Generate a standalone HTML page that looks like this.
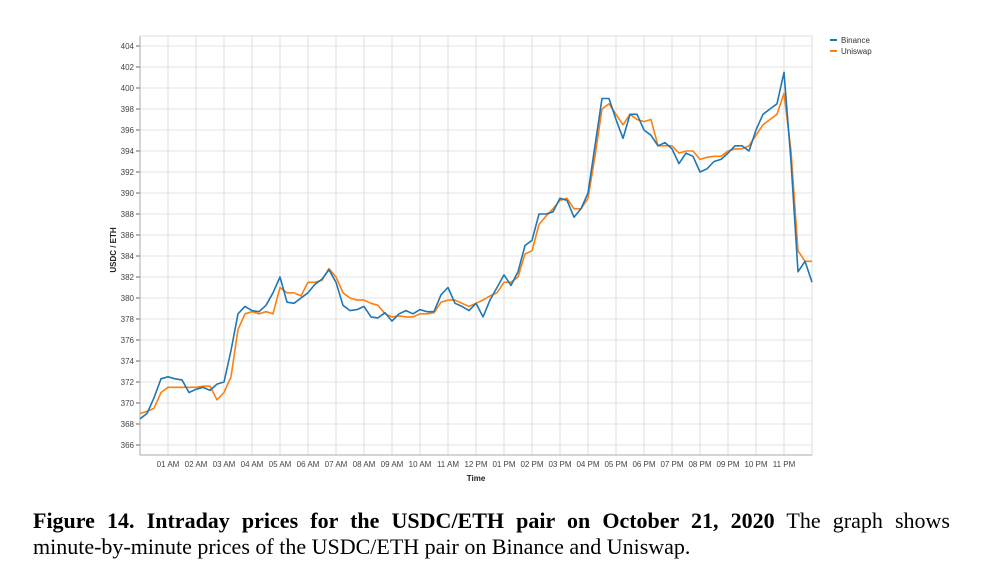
<!DOCTYPE html>
<html><head><meta charset="utf-8"><style>
body{margin:0;background:#fff;width:994px;height:578px;overflow:hidden;position:relative}
svg text{font-family:"Liberation Sans",sans-serif}
#cap{position:absolute;left:33px;top:508px;width:917px;font-family:"Liberation Serif",serif;font-size:22px;line-height:26px;color:#000;letter-spacing:0px}
#cap .l1{text-align:justify;text-align-last:justify;white-space:nowrap}
</style></head><body>
<svg id="chart" width="994" height="500" style="position:absolute;left:0;top:0">
<g id="grid"></g>
<g id="axes"></g>
<g id="series"></g>
<text transform="translate(116,250) rotate(-90)" text-anchor="middle" font-size="8" font-weight="bold" fill="#222">USDC / ETH</text>
<text x="476" y="481" text-anchor="middle" font-size="8" font-weight="bold" fill="#222">Time</text>
<g>
<g><line x1="830" y1="40" x2="837" y2="40" stroke="#1f77b4" stroke-width="2"/><text x="841" y="43" font-size="8" fill="#333">Binance</text></g>
<g><line x1="830" y1="51" x2="837" y2="51" stroke="#ff7f0e" stroke-width="2"/><text x="841" y="54" font-size="8" fill="#333">Uniswap</text></g>
</g>
</svg>
<div id="cap"><div class="l1"><b>Figure 14. Intraday prices for the USDC/ETH pair on October 21, 2020</b> The graph shows</div><div>minute-by-minute prices of the USDC/ETH pair on Binance and Uniswap.</div></div>
<script>
const yTicks=[366,368,370,372,374,376,378,380,382,384,386,388,390,392,394,396,398,400,402,404];
const xTickLabels=["01 AM","02 AM","03 AM","04 AM","05 AM","06 AM","07 AM","08 AM","09 AM","10 AM","11 AM","12 PM","01 PM","02 PM","03 PM","04 PM","05 PM","06 PM","07 PM","08 PM","09 PM","10 PM","11 PM"];
const binance=[368.5,369,370.5,372.3,372.5,372.3,372.2,371,371.3,371.5,371.2,371.8,372,375,378.5,379.2,378.8,378.7,379.3,380.5,382,379.6,379.5,380,380.5,381.3,381.8,382.7,381.5,379.3,378.8,378.9,379.2,378.2,378.1,378.6,377.8,378.5,378.8,378.5,378.9,378.7,378.7,380.3,381,379.5,379.2,378.8,379.5,378.2,379.8,381,382.2,381.2,382.5,385,385.5,388,388,388.2,389.5,389.3,387.7,388.5,390,394.5,399,399,397,395.2,397.5,397.5,396,395.5,394.5,394.8,394.2,392.8,393.8,393.5,392,392.3,393,393.2,393.8,394.5,394.5,394,396,397.5,398,398.5,401.5,393,382.5,383.5,381.5];
const uniswap=[369,369.2,369.5,371,371.5,371.5,371.5,371.5,371.5,371.6,371.6,370.3,371,372.5,377,378.5,378.7,378.5,378.7,378.5,381,380.5,380.5,380.2,381.5,381.5,381.7,382.8,382,380.5,380,379.8,379.8,379.5,379.3,378.5,378.2,378.3,378.2,378.2,378.5,378.5,378.6,379.6,379.8,379.8,379.5,379.2,379.5,379.8,380.2,380.5,381.5,381.5,382,384.2,384.5,387,387.8,388.5,389.3,389.5,388.5,388.5,389.5,393.5,398,398.5,397.5,396.5,397.5,397,396.8,397,394.5,394.5,394.5,393.8,394,394,393.2,393.4,393.5,393.5,394,394.2,394.2,394.5,395.5,396.5,397,397.5,399.5,394,384.5,383.5,383.5];
const NS="http://www.w3.org/2000/svg";
const L=140,R=812,T=36,B=455;
const y=v=>46+(404-v)*10.5;
const x=h=>L+h*(R-L)/24;
function mk(tag,attrs,parent){const e=document.createElementNS(NS,tag);for(const k in attrs)e.setAttribute(k,attrs[k]);parent.appendChild(e);return e;}
const grid=document.getElementById('grid'),axes=document.getElementById('axes'),ser=document.getElementById('series');
mk('rect',{x:L,y:T,width:R-L,height:B-T,fill:'none',stroke:'#ddd'},grid);
yTicks.forEach(v=>{
 const g=mk('line',{x1:L,x2:R,y1:y(v),y2:y(v),stroke:'#e3e3e3'},grid);
 
 
 mk('line',{x1:L-4,x2:L,y1:y(v),y2:y(v),stroke:'#666'},axes);
 const t=mk('text',{x:L-6,y:y(v)+3,'text-anchor':'end','font-size':'8',fill:'#444'},axes);
 t.textContent=v;
 
 
});
xTickLabels.forEach((s,i)=>{
 const h=i+1;
 const g=mk('line',{x1:x(h),x2:x(h),y1:T,y2:B,stroke:'#ddd'},grid);
 
 
 const t=mk('text',{x:x(h),y:467,'text-anchor':'middle','font-size':'8',fill:'#444'},axes);
 t.textContent=s;
 
 
});
mk('line',{x1:L,x2:L,y1:T,y2:B,stroke:'#aaa'},axes);
mk('line',{x1:L,x2:R,y1:B,y2:B,stroke:'#aaa'},axes);
function line(data,color,name){
 const n=data.length-1;
 const d=data.map((v,i)=>(i?'L':'M')+x(i*24/n).toFixed(1)+','+y(v).toFixed(1)).join('');
 const p=mk('path',{d:d,fill:'none',stroke:color,'stroke-width':'1.6','stroke-linejoin':'round'},ser);
 
 
}
line(uniswap,'#ff7f0e','uniswap-line');
line(binance,'#1f77b4','binance-line');
</script>
</body></html>
